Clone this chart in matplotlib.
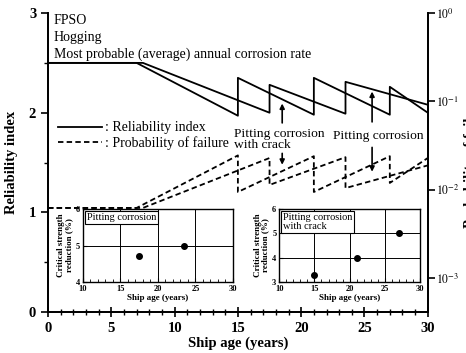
import matplotlib
matplotlib.use("Agg")
import matplotlib.pyplot as plt
from matplotlib.lines import Line2D
from matplotlib.ticker import MultipleLocator

plt.rcParams['font.family'] = ['Liberation Serif', 'DejaVu Serif']
plt.rcParams['mathtext.fontset'] = 'stix'

# reliability index, pitting corrosion (repairs at 17.5 and 23.5 years)
years_pit = [0, 7.5, 17.5, 17.5, 23.5, 23.5, 30]
beta_pit = [2.5, 2.5, 2.0, 2.28, 1.99, 2.31, 2.08]
pf_pit = [0.0062, 0.0062, 0.0228, 0.0113, 0.0233, 0.0104, 0.0188]

# reliability index, pitting corrosion with crack (repairs at 15, 21, 27 years)
years_crack = [0, 7, 15, 15, 21, 21, 27, 27, 30]
beta_crack = [2.5, 2.5, 1.97, 2.35, 1.98, 2.35, 1.98, 2.26, 2.0]
pf_crack = [0.0062, 0.0062, 0.0244, 0.0094, 0.0239, 0.0094, 0.0239, 0.0119, 0.0228]

# inset data: critical strength reduction (%) vs ship age at repair
inset_pit_age = [17.5, 23.5]
inset_pit_red = [4.7, 5.0]
inset_crack_age = [15, 21, 27]
inset_crack_red = [3.3, 4.0, 5.0]

fig = plt.figure(figsize=(4.66, 3.53), dpi=100)
ax = fig.add_axes([0.103, 0.116, 0.815, 0.847])
ax2 = ax.twinx()

lw = 1.3
dash = (0, (3, 1.8))
ax.plot(years_pit, beta_pit, color='black', lw=lw)
ax.plot(years_crack, beta_crack, color='black', lw=lw)
ax2.plot(years_pit, pf_pit, color='black', lw=lw, linestyle=dash)
ax2.plot(years_crack, pf_crack, color='black', lw=lw, linestyle=dash)

ax.set_xlim(0, 30)
ax.set_ylim(0, 3)
ax.xaxis.set_major_locator(MultipleLocator(5))
ax.xaxis.set_minor_locator(MultipleLocator(1))
ax.yaxis.set_major_locator(MultipleLocator(1))
ax.yaxis.set_minor_locator(MultipleLocator(0.5))
ax.tick_params(axis='x', which='major', direction='inout', length=7, width=1.2, labelsize=10.5, pad=4)
ax.tick_params(axis='x', which='minor', direction='inout', length=4, width=1)
ax.tick_params(axis='y', which='major', direction='out', length=5, width=1.2, labelsize=10.5)
ax.tick_params(axis='y', which='minor', direction='out', length=3, width=1)
for lab in ax.get_xticklabels() + ax.get_yticklabels():
    lab.set_fontweight('bold')

for a in (ax, ax2):
    a.spines['top'].set_visible(False)
    for s in ('left', 'bottom', 'right'):
        a.spines[s].set_linewidth(1.3)

ax2.set_yscale('log')
ax2.set_ylim(4.1e-4, 1)
ax2.set_yticks([1e-3, 1e-2, 1e-1, 1])
ax2.set_yticklabels(['$10^{-3}$', '$10^{-2}$', '$10^{-1}$', '$10^{0}$'])
ax2.yaxis.set_minor_locator(matplotlib.ticker.NullLocator())
ax2.tick_params(axis='y', which='major', direction='out', length=5, width=1.2, labelsize=8.5, pad=1)

ax.set_xlabel('Ship age (years)', fontsize=10.5, fontweight='bold', labelpad=1)
ax.set_ylabel('Reliability index', fontsize=10.5, fontweight='bold', labelpad=8)
ax2.set_ylabel('Probability of failure', fontsize=10.5, fontweight='bold', labelpad=3)

ax.text(0.45, 2.93, 'FPSO', fontsize=10, va='center')
ax.text(0.45, 2.75, 'Hogging', fontsize=10, va='center')
ax.text(0.45, 2.59, 'Most probable (average) annual corrosion rate', fontsize=10, va='center')

handles = [Line2D([], [], color='black', lw=lw),
           Line2D([], [], color='black', lw=lw, linestyle=dash)]
ax.legend(handles, [': Reliability index', ': Probability of failure'],
          loc='upper left', bbox_to_anchor=(0.0, 0.67), frameon=False,
          fontsize=10, handlelength=3.2, handletextpad=0.2, labelspacing=0.15,
          borderaxespad=0.3)

# annotations
ax.text(14.7, 1.73, 'Pitting corrosion\nwith crack', fontsize=9.7, ha='left', va='center',
        linespacing=0.95)
ax.annotate('', xy=(18.5, 2.12), xytext=(18.5, 1.87),
            arrowprops=dict(arrowstyle='-|>', color='black', lw=1.2, mutation_scale=7))
ax.annotate('', xy=(18.5, 1.45), xytext=(18.5, 1.62),
            arrowprops=dict(arrowstyle='-|>', color='black', lw=1.2, mutation_scale=7))
ax.text(22.5, 1.77, 'Pitting corrosion', fontsize=9.7, ha='left', va='center')
ax.annotate('', xy=(25.6, 2.24), xytext=(25.6, 1.88),
            arrowprops=dict(arrowstyle='-|>', color='black', lw=1.2, mutation_scale=7))
ax.annotate('', xy=(25.6, 1.38), xytext=(25.6, 1.68),
            arrowprops=dict(arrowstyle='-|>', color='black', lw=1.2, mutation_scale=7))


def draw_inset(rect, xs, ys, ylim, yticks, title):
    ins = fig.add_axes(rect)
    ins.set_xlim(10, 30)
    ins.set_ylim(*ylim)
    ins.set_xticks([10, 15, 20, 25, 30])
    ins.set_yticks(yticks)
    ins.xaxis.set_minor_locator(MultipleLocator(1))
    ins.grid(True, which='major', color='black', lw=0.7)
    ins.set_axisbelow(True)
    ins.plot(xs, ys, 'o', color='black', markersize=4, zorder=3)
    ins.tick_params(which='both', direction='in', labelsize=6, pad=2)
    ins.tick_params(which='major', length=3)
    ins.tick_params(which='minor', length=2)
    for lab in ins.get_xticklabels() + ins.get_yticklabels():
        lab.set_fontweight('bold')
    for s in ins.spines.values():
        s.set_linewidth(1.0)
    ins.set_xlabel('Ship age (years)', fontsize=6.5, fontweight='bold', labelpad=1)
    ins.set_ylabel('Critical strength\nreduction (%)', fontsize=6.5, fontweight='bold',
                   labelpad=2, linespacing=0.95)
    ins.text(10.5, ylim[1] - 0.06 * (ylim[1] - ylim[0]), title, fontsize=7.5, va='top',
             ha='left', linespacing=1.0,
             bbox=dict(boxstyle='square,pad=0.2', facecolor='white', edgecolor='black', lw=0.8))
    return ins


draw_inset([0.178, 0.201, 0.322, 0.207], inset_pit_age, inset_pit_red, (4, 6), [4, 5, 6],
           'Pitting corrosion')
draw_inset([0.599, 0.201, 0.303, 0.207], inset_crack_age, inset_crack_red, (3, 6), [3, 4, 5, 6],
           'Pitting corrosion\nwith crack')

fig.savefig('out.png', dpi=100)
